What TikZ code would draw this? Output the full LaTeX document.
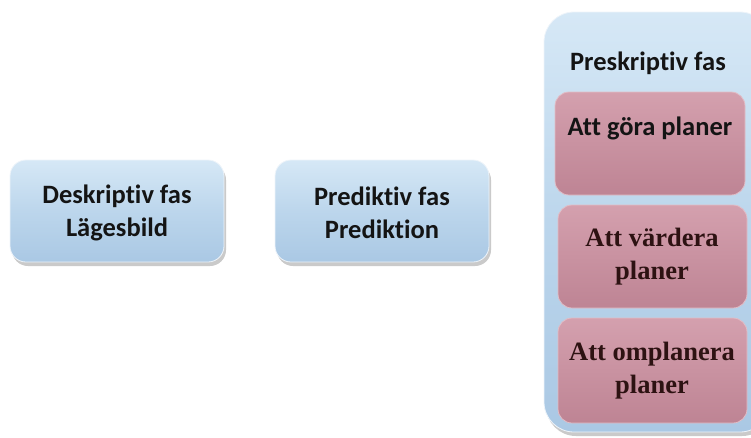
\documentclass[tikz,border=0pt]{standalone}
\usepackage{fontspec}
\setmainfont[Ligatures={NoCommon}]{Carlito}
\newfontfamily\tnr{Liberation Serif}
\usetikzlibrary{shadows}
\definecolor{bluetop}{RGB}{214,232,246}
\definecolor{bluemid}{RGB}{188,214,236}
\definecolor{bluebot}{RGB}{170,200,228}
\definecolor{pinktop}{RGB}{212,160,174}
\definecolor{pinkbot}{RGB}{190,132,148}
\definecolor{txtdark}{RGB}{20,20,20}
\definecolor{txtbrown}{RGB}{45,18,18}
\tikzset{
  bluebox/.style={rounded corners=16pt, draw=white!80!bluebot, line width=0.8pt,
    top color=bluetop, bottom color=bluebot, middle color=bluemid,
    drop shadow={shadow xshift=2pt, shadow yshift=-4pt, opacity=0.35, fill=black!60}},
  pinkbox/.style={rounded corners=14pt, draw=pinktop!70!white, line width=0.8pt,
    top color=pinktop, bottom color=pinkbot},
  lbl/.style={font=\bfseries\fontsize{26.5}{33}\selectfont, text=txtdark, align=center},
  lbltnr/.style={font=\tnr\bfseries\fontsize{26.5}{33}\selectfont, text=txtbrown, align=center}
}
\begin{document}
\begin{tikzpicture}[x=1pt,y=-1pt]
\useasboundingbox (0,0) rectangle (751,437);
% descriptive
\draw[bluebox] (10,160) rectangle (224,262);
\node[lbl] (desk) at (117,213) {Deskriptiv fas\\Lägesbild};
% predictive
\draw[bluebox] (275,160) rectangle (489,262);
\node[lbl] (pred) at (382,213) {Prediktiv fas\\Prediktion};
% prescriptive column
\draw[bluebox, rounded corners=30pt] (544,12) rectangle (770,432);
\node[lbl] (presk) at (648,63) {Preskriptiv fas};
\draw[pinkbox] (555,92) rectangle (745,195);
\node[lbl] (gora) at (650,128) {Att göra planer};
\draw[pinkbox] (558,205) rectangle (747,308);
\node[lbltnr] (varder) at (652,257) {Att värdera\\planer};
\draw[pinkbox] (558,318) rectangle (747,423);
\node[lbltnr] (ompl) at (652,371) {Att omplanera\\planer};
\end{tikzpicture}
\end{document}
